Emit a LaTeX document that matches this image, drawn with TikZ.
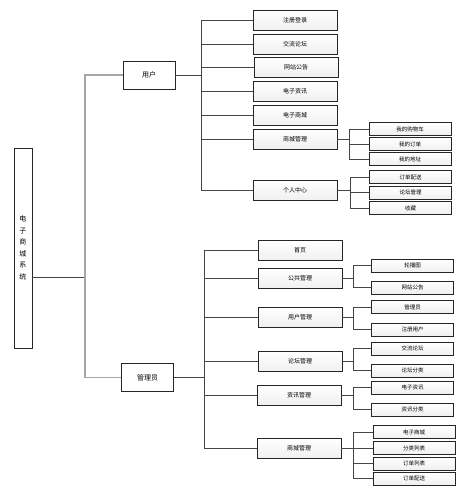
\documentclass[tikz,border=0pt]{standalone}
\usepackage{fontspec}
\setmainfont{Noto Sans CJK SC}
\begin{document}
\begin{tikzpicture}[x=1pt,y=-1pt,
  box/.style={draw=gray!30!black,line width=0.7pt,top color=white,bottom color=gray!12,
    inner sep=0pt,align=center,font=\fontsize{6}{7}\selectfont},
  lvtwo/.style={box,minimum width=84pt,minimum height=20pt},
  lvthree/.style={box,minimum width=82pt,minimum height=13pt,font=\fontsize{5.5}{6}\selectfont},
  mainbox/.style={draw=gray!30!black,line width=0.8pt,fill=white,minimum width=52pt,minimum height=28pt,
    inner sep=0pt,font=\fontsize{7}{8}\selectfont},
  conn/.style={draw=gray!55!black,line width=0.8pt},
  trunk/.style={draw=gray!70,line width=1.2pt}]
\useasboundingbox (0,0) rectangle (472,490);
% root
\node[draw=gray!30!black,line width=0.8pt,fill=white,minimum width=18pt,minimum height=200pt,inner sep=0pt,
  align=center,font=\fontsize{7}{11.5}\selectfont] (root) at (23,248) {电\\子\\商\\城\\系\\统};
\node[mainbox] (u) at (149,75) {用户};
\node[mainbox] (a) at (147.5,377.5) {管理员};
\coordinate (rj) at (85,277);
\draw[conn] (rj -| root.east) -- (rj);
\draw[trunk] (u.west) -| (rj) |- (a.west);
% user children
\node[lvtwo] (u1) at (295,20) {注册登录};
\node[lvtwo] (u2) at (295,44) {交流论坛};
\node[lvtwo] (u3) at (296,67.5) {网站公告};
\node[lvtwo] (u4) at (295,91.5) {电子资讯};
\node[lvtwo] (u5) at (295,115.5) {电子商城};
\node[lvtwo] (u6) at (295,139) {商城管理};
\node[lvtwo] (u7) at (295,190.5) {个人中心};
\coordinate (bu) at (201,0);
\draw[conn] (u.east) -- (u.east -| bu);
\foreach \c in {u1,u2,u3,u4,u5,u6,u7}{\draw[conn] (bu |- u.east) |- (\c.west);}
% 商城管理 sub
\node[lvthree] (s1) at (410,129) {我的购物车};
\node[lvthree] (s2) at (410,144) {我的订单};
\node[lvthree] (s3) at (410,159) {我的地址};
\coordinate (bs) at (349,0);
\draw[conn] (u6.east) -- (u6.east -| bs);
\foreach \c in {s1,s2,s3}{\draw[conn] (bs |- u6.east) |- (\c.west);}
% 个人中心 sub
\node[lvthree] (p1) at (410.5,177) {订单配送};
\node[lvthree] (p2) at (410.5,192.5) {论坛管理};
\node[lvthree] (p3) at (410.5,208) {收藏};
\coordinate (bp) at (350,0);
\draw[conn] (u7.east) -- (u7.east -| bp);
\foreach \c in {p1,p2,p3}{\draw[conn] (bp |- u7.east) |- (\c.west);}
% admin children
\node[lvtwo] (a1) at (300,250) {首页};
\node[lvtwo] (a2) at (300,278.5) {公共管理};
\node[lvtwo] (a3) at (300,317) {用户管理};
\node[lvtwo] (a4) at (300,361.5) {论坛管理};
\node[lvtwo] (a5) at (299,395) {资讯管理};
\node[lvtwo] (a6) at (299,448) {商城管理};
\coordinate (ba) at (204,0);
\draw[conn] (a.east) -- (a.east -| ba);
\foreach \c in {a1,a2,a3,a4,a5,a6}{\draw[conn] (ba |- a.east) |- (\c.west);}
% 公共管理 sub
\node[lvthree] (g1) at (412.5,265.5) {轮播图};
\node[lvthree] (g2) at (412.5,287.5) {网站公告};
\coordinate (bg) at (353,0);
\draw[conn] (a2.east) -- (a2.east -| bg);
\foreach \c in {g1,g2}{\draw[conn] (bg |- a2.east) |- (\c.west);}
% 用户管理 sub
\node[lvthree] (h1) at (412.5,307) {管理员};
\node[lvthree] (h2) at (412.5,329.5) {注册用户};
\coordinate (bh) at (353,0);
\draw[conn] (a3.east) -- (a3.east -| bh);
\foreach \c in {h1,h2}{\draw[conn] (bh |- a3.east) |- (\c.west);}
% 论坛管理 sub
\node[lvthree] (f1) at (412.5,348.5) {交流论坛};
\node[lvthree] (f2) at (412.5,370.5) {论坛分类};
\coordinate (bf) at (353,0);
\draw[conn] (a4.east) -- (a4.east -| bf);
\foreach \c in {f1,f2}{\draw[conn] (bf |- a4.east) |- (\c.west);}
% 资讯管理 sub
\node[lvthree] (z1) at (412.5,387.5) {电子资讯};
\node[lvthree] (z2) at (412.5,409.5) {资讯分类};
\coordinate (bz) at (353,0);
\draw[conn] (a5.east) -- (a5.east -| bz);
\foreach \c in {z1,z2}{\draw[conn] (bz |- a5.east) |- (\c.west);}
% 商城管理 sub
\node[lvthree] (m1) at (414,432) {电子商城};
\node[lvthree] (m2) at (414,448) {分类列表};
\node[lvthree] (m3) at (414,463.5) {订单列表};
\node[lvthree] (m4) at (414,478.5) {订单配送};
\coordinate (bm) at (353,0);
\draw[conn] (a6.east) -- (a6.east -| bm);
\foreach \c in {m1,m2,m3,m4}{\draw[conn] (bm |- a6.east) |- (\c.west);}
\end{tikzpicture}
\end{document}
